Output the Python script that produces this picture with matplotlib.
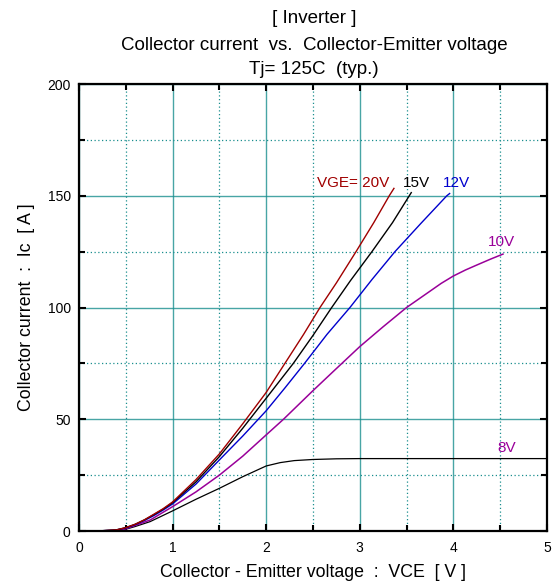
import matplotlib
matplotlib.use('Agg')
import matplotlib.pyplot as plt
from matplotlib.ticker import MultipleLocator

plt.rcParams['font.family'] = ['Liberation Sans', 'DejaVu Sans']

# Curve data: VCE [V] vs Ic [A]
vce_20 = [0, 0.2, 0.4, 0.5, 0.6, 0.7, 0.8, 0.9, 1.0, 1.25, 1.5, 1.75, 2.0, 2.2, 2.4, 2.575, 2.75, 2.96, 3.15, 3.315, 3.365]
ic_20 = [0, 0, 0.5, 1.5, 3, 5, 7.5, 10, 13, 23, 34.5, 48, 62, 75, 88, 100, 111, 125, 138, 150, 153.3]

vce_15 = [0, 0.2, 0.4, 0.5, 0.6, 0.7, 0.8, 0.9, 1.0, 1.25, 1.5, 1.75, 2.0, 2.29, 2.5, 2.7, 2.9, 3.13, 3.35, 3.55]
ic_15 = [0, 0, 0.5, 1.5, 3, 5, 7.3, 9.8, 12.7, 22, 33.3, 46, 59.4, 75, 87.5, 100, 112, 125, 138, 151.4]

vce_12 = [0, 0.2, 0.4, 0.5, 0.6, 0.7, 0.8, 0.9, 1.0, 1.25, 1.5, 1.75, 2.0, 2.2, 2.41, 2.65, 2.895, 3.13, 3.376, 3.65, 3.93, 3.96]
ic_12 = [0, 0, 0.5, 1.3, 2.8, 4.7, 6.9, 9.4, 12.1, 21, 31.8, 42.5, 53.8, 64, 75, 88, 100, 112.5, 125, 137.5, 150, 151]

vce_10 = [0, 0.1, 0.2, 0.3, 0.4, 0.5, 0.6, 0.76, 1.0, 1.25, 1.5, 1.75, 2.0, 2.185, 2.5, 2.72, 3.0, 3.25, 3.5, 3.74, 3.87, 4.0, 4.13, 4.25, 4.4, 4.53]
ic_10 = [0, -0.5, -1, -0.8, 0, 1, 2.5, 4.9, 10.9, 17.5, 25, 33.5, 43, 50, 62.8, 71.5, 82.5, 91.4, 100, 107, 110.8, 114.1, 116.8, 119, 121.7, 123.9]

vce_8 = [0, 0.4, 0.5, 0.6, 0.76, 1.0, 1.25, 1.5, 1.75, 2.0, 2.15, 2.3, 2.5, 2.75, 3.0, 3.5, 5.0]
ic_8 = [0, 0, 0.8, 2, 4.2, 9.0, 14.2, 19.1, 24.3, 29.1, 30.6, 31.5, 32.0, 32.3, 32.4, 32.4, 32.4]

grid_color = '#1a8f8f'

fig = plt.figure(figsize=(5.57, 5.85), dpi=100)
ax = fig.add_axes([0.1418, 0.0923, 0.8402, 0.7641])

ax.set_xlim(0, 5)
ax.set_ylim(0, 200)
ax.xaxis.set_major_locator(MultipleLocator(1))
ax.xaxis.set_minor_locator(MultipleLocator(0.5))
ax.yaxis.set_major_locator(MultipleLocator(50))
ax.yaxis.set_minor_locator(MultipleLocator(25))

# solid teal major grid, dotted teal minor grid
ax.grid(which='major', color=grid_color, linestyle='-', linewidth=1.0, alpha=0.8)
ax.grid(which='minor', color=grid_color, linestyle=(0, (1, 2)), linewidth=0.9)
ax.set_axisbelow(True)

ax.tick_params(which='both', direction='in', top=True, right=True, width=1.5, labelsize=10)
ax.tick_params(which='major', length=5)
ax.tick_params(which='minor', length=4)
ax.tick_params(axis='y', pad=6)
ax.tick_params(axis='x', pad=7)
for s in ax.spines.values():
    s.set_linewidth(1.6)

ax.plot(vce_8, ic_8, color='black', linewidth=0.9)
ax.plot(vce_10, ic_10, color='#990099', linewidth=1.1)
ax.plot(vce_12, ic_12, color='#0000cc', linewidth=1.0)
ax.plot(vce_15, ic_15, color='black', linewidth=1.0)
ax.plot(vce_20, ic_20, color='#a00000', linewidth=1.0)

ax.text(2.54, 155.7, 'VGE= 20V', color='#a00000', fontsize=11, va='center')
ax.text(3.46, 155.7, '15V', color='black', fontsize=11, va='center')
ax.text(3.89, 155.7, '12V', color='#0000cc', fontsize=11, va='center')
ax.text(4.37, 129.4, '10V', color='#990099', fontsize=11, va='center')
ax.text(4.47, 37.3, '8V', color='#990099', fontsize=11, va='center')

ax.set_xlabel('Collector - Emitter voltage  :  VCE  [ V ]', fontsize=12.8, labelpad=7)
ax.set_ylabel('Collector current  :  Ic  [ A ]', fontsize=12.8, labelpad=9)

fig.text(0.564, 0.969, '[ Inverter ]', ha='center', va='center', fontsize=13.5)
fig.text(0.564, 0.922, 'Collector current  vs.  Collector-Emitter voltage', ha='center', va='center', fontsize=13.5)
fig.text(0.564, 0.882, 'Tj= 125C  (typ.)', ha='center', va='center', fontsize=13.5)

fig.savefig('out.png', dpi=100)
